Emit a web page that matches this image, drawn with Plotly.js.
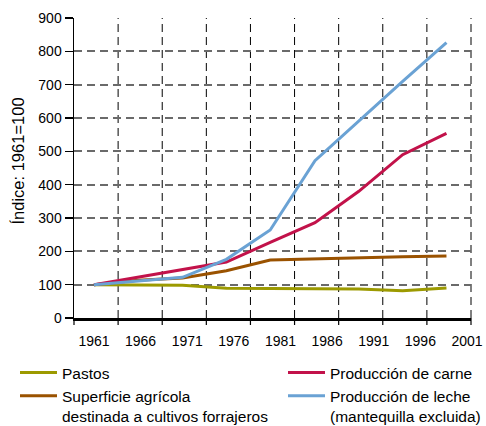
<!DOCTYPE html>
<html>
<head>
<meta charset="utf-8">
<script src="https://cdn.plot.ly/plotly-3.0.1.min.js"></script>
<style>html,body{margin:0;padding:0;background:#fff}#chart{width:486px;height:426px}</style>
</head>
<body>
<div id="chart"></div>
<script>
// Positions of the data points along the time axis (years)
const years = [1961, 1965.7, 1970.5, 1975.2, 1979.9, 1984.7, 1989.4, 1994.1, 1998.8];
const yearLabels = [1961, 1966, 1971, 1976, 1981, 1986, 1991, 1996, 2001];
const pastos = [100, 99, 98, 89, 88, 88, 87, 82, 90];
const superficie = [100, 113, 120, 142, 174, 178, 181, 184, 186];
const carne = [100, 122, 145, 168, 227, 286, 380, 490, 554];
const leche = [100, 112, 122, 176, 264, 472, 592, 710, 826];
const yTicks = [0, 100, 200, 300, 400, 500, 600, 700, 800, 900];
const yTitle = 'Índice: 1961=100';
const gridCount = 9; // vertical grid divisions of the plot width

const names = ['Pastos', 'Superficie agrícola<br>destinada a cultivos forrajeros', 'Producción de carne', 'Producción de leche<br>(mantequilla excluida)'];
const series = [pastos, superficie, carne, leche];
const colors = ['#9c9a00', '#9a5200', '#c2124a', '#6aa2d4'];
const legendOf = ['legend', 'legend', 'legend2', 'legend2'];

const traces = series.map((s, i) => ({
  x: years, y: s, name: names[i], type: 'scatter', mode: 'lines',
  legend: legendOf[i], legendgroup: 'g' + i,
  line: {color: colors[i], width: 3}
}));

// vertical dashed grid lines and x ticks, evenly spread across the plot width
const shapes = [];
for (let k = 0; k <= gridCount; k++) {
  if (k > 0) {
    shapes.push({type: 'line', xref: 'x domain', yref: 'y domain', layer: 'below',
      x0: k / gridCount, x1: k / gridCount, y0: 0, y1: 1,
      line: {color: '#000', width: 1, dash: '8px,5px'}});
  }
  shapes.push({type: 'line', xref: 'x domain', yref: 'y domain', layer: 'above',
    x0: k / gridCount, x1: k / gridCount, y0: 0, y1: -7 / 300,
    line: {color: '#000', width: 1.2}});
}

const font = {family: 'Liberation Sans, Arial, sans-serif', color: '#000'};
const legendBase = {
  orientation: 'v', xref: 'container', yref: 'container',
  xanchor: 'left', y: 1 - 356 / 426, yanchor: 'top',
  valign: 'top', traceorder: 'normal', itemwidth: 37, tracegroupgap: 12,
  bgcolor: 'rgba(0,0,0,0)',
  font: Object.assign({size: 15.5}, font)
};
const layout = {
  width: 486, height: 426,
  margin: {l: 74, r: 15, t: 18, b: 108, autoexpand: false},
  paper_bgcolor: '#fff', plot_bgcolor: '#fff',
  font: Object.assign({size: 14}, font),
  showlegend: true,
  legend: Object.assign({}, legendBase, {x: 15 / 486}),
  legend2: Object.assign({}, legendBase, {x: 283 / 486}),
  shapes: shapes,
  annotations: [{
    text: yTitle, textangle: -90, showarrow: false,
    xref: 'paper', yref: 'paper', x: (17 - 74) / 397, y: (318 - 161.5) / 300,
    xanchor: 'center', yanchor: 'middle',
    font: Object.assign({size: 16.5}, font)
  }],
  xaxis: {
    range: [1958.86, 2001.43], tickvals: yearLabels,
    ticks: 'outside', ticklen: 8, tickcolor: 'rgba(0,0,0,0)',
    showgrid: false, showline: true, linecolor: '#000', linewidth: 3, zeroline: false,
    tickfont: Object.assign({size: 14}, font)
  },
  yaxis: {
    range: [0, 900], tickvals: yTicks,
    ticks: 'outside', ticklen: 8, tickcolor: '#000', tickwidth: 1.5,
    showgrid: true, gridcolor: '#6a6a6a', gridwidth: 2, griddash: '8px,5px',
    showline: true, linecolor: '#000', linewidth: 1.5, zeroline: false,
    tickfont: Object.assign({size: 14}, font)
  }
};

Plotly.newPlot('chart', traces, layout, {displayModeBar: false, staticPlot: true});
</script>
</body>
</html>
